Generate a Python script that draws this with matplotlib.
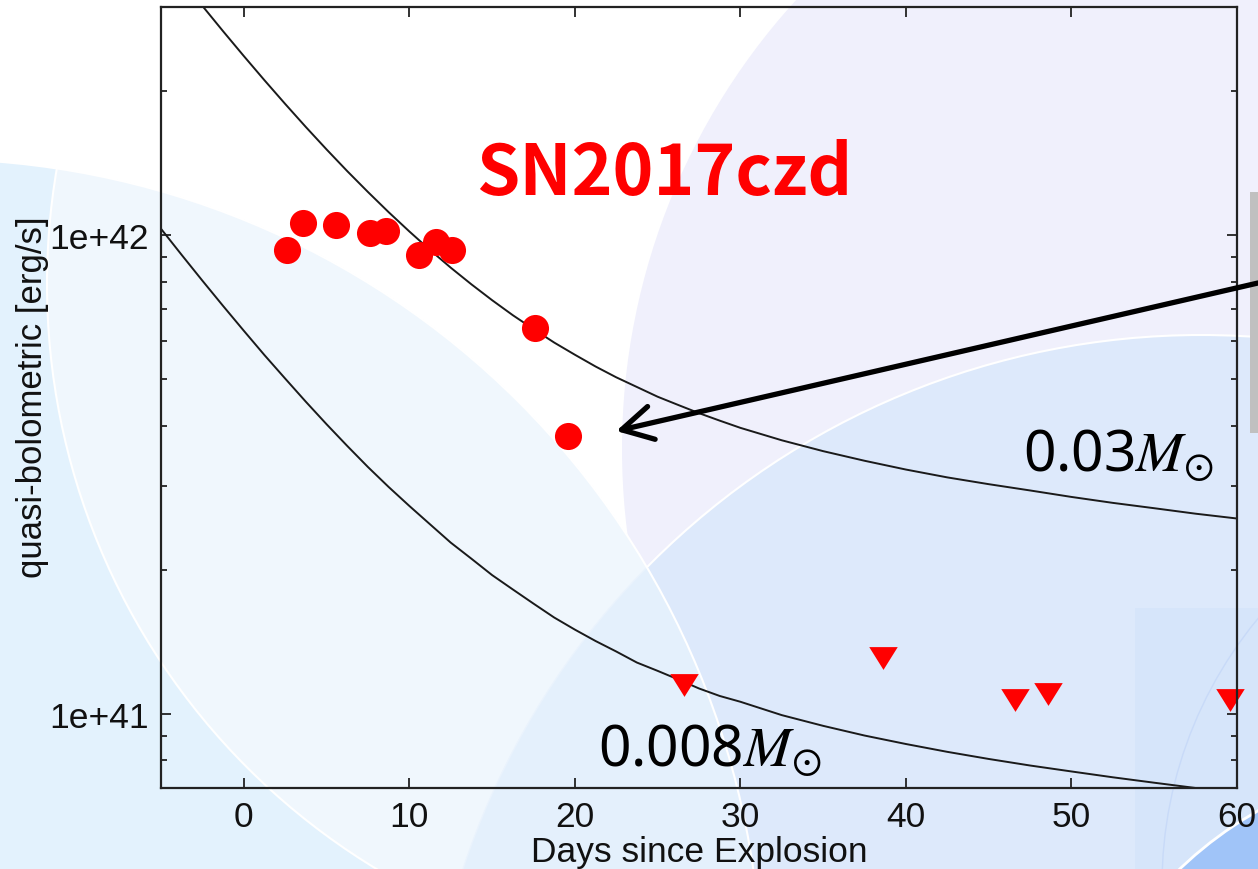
import matplotlib
matplotlib.use("Agg")
import matplotlib.pyplot as plt
from matplotlib.patches import Circle, Rectangle
from matplotlib.ticker import FixedLocator, FixedFormatter, NullFormatter

plt.rcParams['font.family'] = ['Liberation Sans', 'DejaVu Sans']
plt.rcParams['mathtext.fontset'] = 'stix'

# detections of SN2017czd (days since explosion, erg/s)
det_days = [2.6, 3.6, 5.6, 7.6, 8.6, 10.6, 11.6, 12.6, 17.6, 19.6]
det_lum = [9.3e41, 1.06e42, 1.05e42, 1.01e42, 1.02e42,
           9.1e41, 9.7e41, 9.3e41, 6.4e41, 3.8e41]

# upper limits
lim_days = [26.6, 38.6, 46.6, 48.6, 59.6]
lim_lum = [1.15e41, 1.31e41, 1.07e41, 1.10e41, 1.07e41]

# 56Ni -> 56Co -> 56Fe decay luminosity for two nickel masses
model_days = [-5, -3.75, -2.5, -1.25, 0, 1.25, 2.5, 3.75, 5, 6.25, 7.5,
              8.75, 10, 11.25, 12.5, 13.75, 15, 16.25, 17.5, 18.75, 20,
              21.25, 22.5, 23.75, 25, 26.25, 27.5, 28.75, 30, 32.5, 35,
              37.5, 40, 42.5, 45, 47.5, 50, 52.5, 55, 57.5, 60]
lum_ni_003 = [3.870e42, 3.413e42, 3.016e42, 2.670e42, 2.370e42, 2.109e42,
              1.882e42, 1.684e42, 1.512e42, 1.362e42, 1.232e42, 1.118e42,
              1.019e42, 9.32e41, 8.56e41, 7.90e41, 7.32e41, 6.81e41,
              6.37e41, 5.97e41, 5.63e41, 5.32e41, 5.05e41, 4.82e41,
              4.60e41, 4.42e41, 4.25e41, 4.10e41, 3.96e41, 3.73e41,
              3.54e41, 3.38e41, 3.24e41, 3.12e41, 3.02e41, 2.93e41,
              2.84e41, 2.76e41, 2.69e41, 2.62e41, 2.56e41]
lum_ni_0008 = [1.032e42, 9.10e41, 8.04e41, 7.12e41, 6.32e41, 5.62e41,
               5.02e41, 4.49e41, 4.03e41, 3.63e41, 3.28e41, 2.98e41,
               2.72e41, 2.49e41, 2.28e41, 2.11e41, 1.95e41, 1.82e41,
               1.70e41, 1.59e41, 1.50e41, 1.42e41, 1.35e41, 1.28e41,
               1.23e41, 1.18e41, 1.13e41, 1.09e41, 1.06e41, 9.94e40,
               9.44e40, 9.01e40, 8.65e40, 8.33e40, 8.05e40, 7.80e40,
               7.58e40, 7.37e40, 7.18e40, 7.00e40, 6.82e40]

xticks = [0, 10, 20, 30, 40, 50, 60]
yticks = [1e41, 1e42]
ytick_labels = ["1e+41", "1e+42"]
yminor = [8e40, 9e40, 2e41, 3e41, 4e41, 5e41, 6e41, 7e41, 8e41, 9e41, 2e42]

W, H = 1258, 870
fig = plt.figure(figsize=(W / 100, H / 100), dpi=100)

# slide background, drawn in pixel units
bg = fig.add_axes([0, 0, 1, 1])
bg.set_xlim(0, W)
bg.set_ylim(H, 0)
bg.axis("off")

lavender = Circle((1288, 450), 666, facecolor="#F0F0FC", edgecolor="none")
bg.add_patch(lavender)
blue_r = Circle((1201, 1113), 777, facecolor="#DDE9FB",
                edgecolor="white", lw=1.5)
bg.add_patch(blue_r)
bg.add_patch(Rectangle((1135, 609), 200, 300, facecolor="#D6E5FA",
                       edgecolor="none"))
bg.add_patch(Circle((1580, 886), 418, facecolor="none",
                    edgecolor="#C8DAF8", lw=1))
bg.add_patch(Circle((1451, 1153), 392, facecolor="#A0C4F8",
                    edgecolor="white", lw=2))

blue_l = Circle((-68, 990), 830, facecolor="#E3F2FD", edgecolor="none")
bg.add_patch(blue_l)
inner = Circle((731, 285), 684, facecolor="#F0F7FD", edgecolor="white",
               lw=1.5)
bg.add_patch(inner)
inner.set_clip_path(blue_l)
overlap = Circle((1201, 1113), 777, facecolor="#E4F0FC",
                 edgecolor="#EAF3FD", lw=1)
bg.add_patch(overlap)
overlap.set_clip_path(blue_l)
bg.add_patch(Circle((-68, 990), 830, facecolor="none", edgecolor="white",
                    lw=1.5))
bg.add_patch(Rectangle((1250, 193), 8, 241, facecolor="#C0C0C0",
                       edgecolor="none"))

# light curve panel
ax = fig.add_axes([161 / W, 1 - 789 / H, (1237 - 161) / W, (789 - 8) / H])
ax.set_facecolor("none")
ax.set_yscale("log")
ax.set_xlim(-5, 60)
ax.set_ylim(7e40, 3e42)

ax.plot(model_days, lum_ni_003, color="#1a1a1a", lw=1.4)
ax.plot(model_days, lum_ni_0008, color="#1a1a1a", lw=1.4)
ax.plot(det_days, det_lum, "o", color="red", ms=19.5, mec="none")
tri = [(-1, 0.8), (1, 0.8), (0, -0.8), (-1, 0.8)]
ax.plot(lim_days, lim_lum, marker=tri, ls="none", color="red", ms=20.5,
        mec="none", clip_on=False)

ax.xaxis.set_major_locator(FixedLocator(xticks))
ax.yaxis.set_major_locator(FixedLocator(yticks))
ax.yaxis.set_major_formatter(FixedFormatter(ytick_labels))
ax.yaxis.set_minor_locator(FixedLocator(yminor))
ax.yaxis.set_minor_formatter(NullFormatter())
ax.tick_params(which="both", direction="in", top=True, right=True,
               width=1.3, color="#222222", labelsize=25.5,
               labelcolor="#111111")
ax.tick_params(which="major", length=7, pad=9)
ax.tick_params(which="minor", length=4)
for sp in ax.spines.values():
    sp.set_linewidth(1.6)
    sp.set_color("#222222")

fig.text(33 / W, 1 - 397 / H, "quasi-bolometric [erg/s]", rotation=90,
         ha="center", va="center", fontsize=25, color="#111111")
fig.text(699 / W, 1 - 862 / H, "Days since Explosion", ha="center",
         va="baseline", fontsize=25.5, color="#111111")

fig.text(664 / W, 1 - 195 / H, "SN2017czd", ha="center", va="baseline",
         fontsize=50, fontweight="bold", color="red",
         family=["Noto Sans CJK JP", "DejaVu Sans"])
fig.text(1023 / W, 1 - 471 / H, r"0.03$M_{\odot}$", ha="left",
         va="baseline", fontsize=41, family=["Noto Sans", "DejaVu Sans"])
fig.text(598 / W, 1 - 766 / H, r"0.008$M_{\odot}$", ha="left",
         va="baseline", fontsize=41, family=["Noto Sans", "DejaVu Sans"])

# arrow pointing at the last detection
ax.annotate("", xy=(22.5, 3.9e41), xytext=(W, H - 284),
            textcoords="figure pixels", annotation_clip=False,
            arrowprops=dict(arrowstyle="->,head_length=1.0,head_width=0.55",
                            lw=3.8, color="black", mutation_scale=22,
                            shrinkA=0, shrinkB=0))

fig.savefig("out.png", dpi=100)
